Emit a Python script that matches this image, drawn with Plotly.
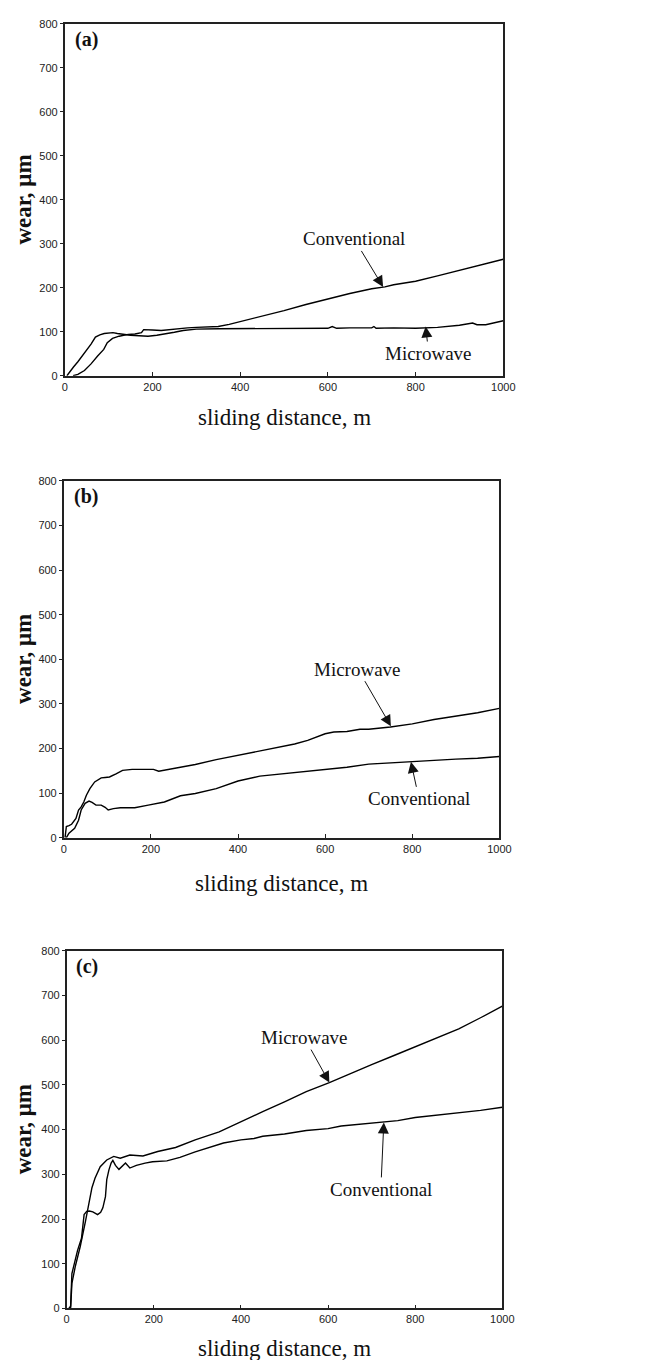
import plotly.graph_objects as go

# ---------------- data ----------------
# panel (a)
a_micro_x = [5, 12, 20, 30, 40, 50, 60, 70, 80, 90, 100, 110, 120, 131, 140, 150, 170, 190, 210, 230, 250, 270, 300, 350, 400, 450, 500, 550, 600, 610, 620, 650, 700, 705, 710, 750, 800, 850, 900, 930, 940, 960, 1000]
a_micro_y = [0, 10, 20, 32, 45, 57, 72, 88, 93, 96, 97, 98, 96, 94, 93, 92, 91, 90, 92, 95, 99, 103, 106, 107, 107, 108, 108, 108, 108, 112, 108, 109, 109, 112, 108, 109, 108, 110, 115, 120, 116, 116, 125]
a_conv_x = [19, 30, 45, 60, 75, 89, 97, 109, 124, 135, 145, 160, 175, 180, 190, 200, 220, 240, 260, 280, 300, 330, 350, 375, 400, 450, 500, 550, 600, 650, 700, 730, 750, 800, 850, 900, 950, 1000]
a_conv_y = [0, 3, 12, 27, 45, 60, 75, 85, 90, 93, 94, 95, 98, 105, 104, 104, 103, 105, 108, 109, 110, 112, 112, 117, 123, 135, 148, 162, 175, 187, 198, 202, 207, 215, 227, 240, 252, 265]

# panel (b)
b_micro_x = [3, 6, 12, 18, 28, 34, 40, 46, 52, 60, 71, 80, 86, 95, 105, 120, 135, 157, 180, 206, 218, 235, 249, 275, 302, 350, 400, 450, 500, 530, 560, 580, 600, 620, 650, 680, 700, 750, 800, 850, 900, 950, 1000]
b_micro_y = [0, 25, 27, 30, 43, 62, 69, 80, 95, 110, 125, 131, 134, 135, 136, 143, 151, 153, 153, 153, 149, 152, 155, 160, 164, 175, 185, 195, 205, 210, 218, 225, 233, 237, 238, 243, 243, 248, 255, 265, 272, 280, 290]
b_conv_x = [6, 12, 25, 34, 40, 49, 58, 65, 74, 86, 95, 102, 114, 130, 145, 163, 194, 220, 231, 268, 302, 350, 400, 450, 500, 550, 600, 650, 700, 750, 800, 850, 900, 950, 1000]
b_conv_y = [0, 10, 21, 39, 62, 77, 82, 79, 73, 73, 68, 62, 65, 67, 67, 67, 73, 77, 80, 94, 99, 110, 127, 138, 143, 148, 152, 158, 165, 168, 170, 173, 176, 178, 182]

# panel (c)
c_micro_x = [9, 12, 20, 31, 43, 52, 58, 65, 77, 92, 108, 123, 145, 175, 209, 250, 295, 350, 400, 450, 500, 550, 603, 650, 700, 750, 806, 850, 900, 950, 1000]
c_micro_y = [0, 56, 95, 138, 194, 242, 270, 291, 317, 332, 340, 336, 343, 341, 351, 360, 377, 395, 418, 440, 462, 485, 505, 525, 545, 565, 588, 605, 625, 650, 676]
c_conv_x = [5, 9, 12, 18, 25, 34, 40, 46, 52, 60, 71, 78, 83, 89, 92, 97, 102, 106, 112, 120, 128, 135, 145, 160, 180, 197, 230, 260, 295, 330, 360, 400, 430, 450, 500, 550, 600, 630, 650, 700, 730, 760, 800, 850, 900, 950, 1000]
c_conv_y = [0, 5, 78, 105, 130, 157, 210, 217, 218, 216, 210, 215, 225, 250, 288, 310, 325, 331, 320, 311, 318, 325, 314, 320, 325, 328, 330, 338, 350, 360, 370, 377, 380, 385, 390, 398, 402, 408, 410, 414, 417, 420, 427, 432, 438, 443, 450]

x_ticks = [0, 200, 400, 600, 800, 1000]
y_ticks = [0, 100, 200, 300, 400, 500, 600, 700, 800]
panel_labels = ["(a)", "(b)", "(c)"]
x_title = "sliding distance, m"
y_title = "wear, μm"

# ---------------- layout ----------------
W, H = 646, 1360
# pixel boxes: (left, right, top, bottom, gap to x title)
boxes = [(55, 504, 10, 365, 42), (54, 500, 471, 831, 46), (57, 503, 945, 1306, 40)]

SERIF = "Liberation Serif, Times New Roman, serif"
SANS = "Liberation Sans, Arial, sans-serif"


def px(xp):
    return xp / W


def py(yp):
    return 1 - yp / H


fig = go.Figure()
series = [
    (a_micro_x, a_micro_y, a_conv_x, a_conv_y),
    (b_micro_x, b_micro_y, b_conv_x, b_conv_y),
    (c_micro_x, c_micro_y, c_conv_x, c_conv_y),
]
for i, (mx, my, cx, cy) in enumerate(series):
    suffix = "" if i == 0 else str(i + 1)
    fig.add_trace(go.Scatter(x=mx, y=my, mode="lines", name="Microwave",
                             line=dict(color="black", width=1.4),
                             xaxis="x" + suffix, yaxis="y" + suffix, showlegend=False))
    fig.add_trace(go.Scatter(x=cx, y=cy, mode="lines", name="Conventional",
                             line=dict(color="black", width=1.4),
                             xaxis="x" + suffix, yaxis="y" + suffix, showlegend=False))

layout = dict(width=W, height=H, margin=dict(l=0, r=0, t=0, b=0),
              paper_bgcolor="white", plot_bgcolor="white", showlegend=False)

annotations = []
for i, (l, r, t, b, g) in enumerate(boxes):
    suffix = "" if i == 0 else str(i + 1)
    layout["xaxis" + suffix] = dict(
        domain=[px(l), px(r)], range=[0, 1000], tickvals=x_ticks, ticktext=[str(v) for v in x_ticks],
        showline=True, mirror=True, linecolor="#222", linewidth=1.6,
        ticks="inside", ticklen=4, tickcolor="#222", showgrid=False, zeroline=False,
        tickfont=dict(family=SANS, size=11, color="#222"),
        anchor="y" + suffix, fixedrange=True)
    layout["yaxis" + suffix] = dict(
        domain=[py(b), py(t)], range=[0, 800], tickvals=y_ticks, ticktext=[str(v) for v in y_ticks],
        showline=True, mirror=True, linecolor="#222", linewidth=1.6,
        ticks="outside", ticklen=3, tickcolor="#222", showgrid=False, zeroline=False,
        tickfont=dict(family=SANS, size=11, color="#222"),
        anchor="x" + suffix, fixedrange=True)
    annotations.append(dict(text="<b>%s</b>" % panel_labels[i], xref="paper", yref="paper",
                            x=px(l + 8), y=py(t + 16), xanchor="left", yanchor="middle",
                            showarrow=False, font=dict(family=SERIF, size=20, color="#111")))
    annotations.append(dict(text=x_title, xref="paper", yref="paper",
                            x=px((l + r) / 2), y=py(b + g), xanchor="center", yanchor="middle",
                            showarrow=False, font=dict(family=SERIF, size=23, color="#111")))
    annotations.append(dict(text="<b>%s</b>" % y_title, xref="paper", yref="paper",
                            x=px(13), y=py((t + b) / 2), xanchor="center", yanchor="middle",
                            textangle=-90, showarrow=False,
                            font=dict(family=SERIF, size=23, color="#111")))

# curve labels with arrows: (panel, text, head_x, head_y, ax, ay)
arrows = [
    (0, "Conventional", 726, 202, -29, -48),
    (0, "Microwave", 823, 112, 3, 27),
    (1, "Microwave", 751, 250, -33, -57),
    (1, "Conventional", 797, 170, 8, 37),
    (2, "Microwave", 603, 505, -25, -45),
    (2, "Conventional", 728, 416, -3, 67),
]
for p, txt, hx, hy, ax, ay in arrows:
    suffix = "" if p == 0 else str(p + 1)
    annotations.append(dict(text=txt, x=hx, y=hy, xref="x" + suffix, yref="y" + suffix,
                            ax=ax, ay=ay, showarrow=True, arrowhead=2, arrowsize=2.2,
                            arrowwidth=1, arrowcolor="#111",
                            font=dict(family=SERIF, size=19, color="#111")))

layout["annotations"] = annotations
fig.update_layout(**layout)
fig.write_html("out.html")
